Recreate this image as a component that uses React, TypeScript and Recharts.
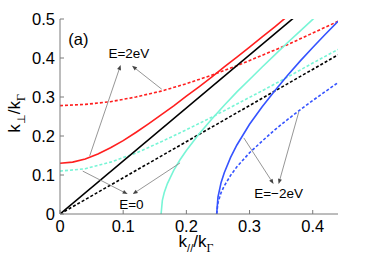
import React from 'react';
import { LineChart, Line, XAxis, YAxis, ReferenceLine, ReferenceDot } from 'recharts';

// k_par / k_Gamma samples and the k_perp / k_Gamma values
const xTicks = [0, 0.1, 0.2, 0.3, 0.4];
const yTicks = [0, 0.1, 0.2, 0.3, 0.4, 0.5];

const kFine = [0, 0.02, 0.04, 0.06, 0.08, 0.1, 0.12, 0.14, 0.16, 0.18, 0.2, 0.22, 0.24, 0.26, 0.28, 0.3, 0.32, 0.34, 0.36];
const redSolid = [0.13, 0.133, 0.141, 0.154, 0.17, 0.188, 0.209, 0.231, 0.254, 0.277, 0.302, 0.326, 0.351, 0.377, 0.402, 0.428, 0.454, 0.48, 0.507];

const kCoarse = [0, 0.04, 0.08, 0.12, 0.16, 0.2, 0.24, 0.28, 0.32, 0.36, 0.4, 0.44];
const redDashed = [0.278, 0.281, 0.288, 0.3, 0.315, 0.334, 0.356, 0.38, 0.407, 0.434, 0.464, 0.494];
const cyanDashed = [0.11, 0.116, 0.133, 0.156, 0.185, 0.216, 0.248, 0.282, 0.316, 0.351, 0.387, 0.422];

const kBlackSolid = [0, 0.37];
const blackSolid = [0, 0.503];
const kBlackDashed = [0, 0.44];
const blackDashed = [0, 0.408];

const kCyan = [0.16, 0.162, 0.165, 0.17, 0.18, 0.19, 0.2, 0.22, 0.24, 0.26, 0.28, 0.3, 0.32, 0.34, 0.36, 0.38, 0.4, 0.41];
const cyanSolid = [0, 0.035, 0.055, 0.078, 0.112, 0.139, 0.163, 0.205, 0.243, 0.279, 0.313, 0.345, 0.377, 0.408, 0.439, 0.469, 0.499, 0.513];

const kBlue = [0.248, 0.25, 0.255, 0.26, 0.27, 0.28, 0.3, 0.32, 0.34, 0.36, 0.38, 0.4, 0.42, 0.44];
const blueSolid = [0, 0.043, 0.081, 0.106, 0.145, 0.177, 0.23, 0.275, 0.316, 0.355, 0.392, 0.427, 0.461, 0.494];
const blueDashed = [0, 0.029, 0.055, 0.072, 0.099, 0.121, 0.157, 0.187, 0.216, 0.242, 0.267, 0.291, 0.314, 0.337];

const pts = (ks: number[], vs: number[]) => ks.map((k, i) => ({ k, v: vs[i] }));

const RED = '#ff1f1f';
const CYAN = '#78f5d6';
const BLUE = '#3553ff';
const FRAME = '#7a7a7a';
const FONT = "'Liberation Sans', Arial, Helvetica, sans-serif";

// annotation arrows: [from, to] in data units
const arrows = [
  [[0.047, 0.149], [0.096, 0.382]],
  [[0.161, 0.32], [0.114, 0.38]],
  [[0.036, 0.11], [0.107, 0.051]],
  [[0.19, 0.131], [0.115, 0.051]],
  [[0.291, 0.195], [0.338, 0.077]],
  [[0.378, 0.262], [0.346, 0.077]],
];

const notes = [
  { x: 0.029, y: 0.449, text: '(a)', size: 16.5 },
  { x: 0.109, y: 0.413, text: 'E=2eV', size: 13.5 },
  { x: 0.113, y: 0.026, text: 'E=0', size: 13.5 },
  { x: 0.346, y: 0.054, text: 'E=\u22122eV', size: 13.5 },
];

const Arrow = (p: any) => {
  const { x1, y1, x2, y2 } = p;
  const dx = x2 - x1;
  const dy = y2 - y1;
  const len = Math.hypot(dx, dy) || 1;
  const ux = dx / len;
  const uy = dy / len;
  const L = 5;
  const W = 2;
  const bx = x2 - ux * L;
  const by = y2 - uy * L;
  return (
    <g>
      <line x1={x1} y1={y1} x2={bx} y2={by} stroke="#8a8a8a" strokeWidth={0.9} />
      <polygon
        points={`${x2},${y2} ${bx - uy * W},${by + ux * W} ${bx + uy * W},${by - ux * W}`}
        fill="#444"
      />
    </g>
  );
};

const XLabel = (props: any) => {
  const vb = props.viewBox;
  const cx = vb.x + vb.width / 2 - 3;
  const by = vb.y + 33;
  return (
    <text x={cx} y={by} textAnchor="middle" fontSize={17} fill="#000" fontFamily={FONT}>
      k
      <tspan fontSize={11} dy={5}>//</tspan>
      <tspan dy={-5}>/k</tspan>
      <tspan fontSize={12} dy={5} fontFamily="'Liberation Serif', serif">Γ</tspan>
    </text>
  );
};

const YLabel = (props: any) => {
  const vb = props.viewBox;
  const bx = vb.x + 20;
  const cy = vb.y + vb.height / 2 - 3;
  return (
    <text
      x={bx}
      y={cy}
      transform={`rotate(-90 ${bx} ${cy})`}
      textAnchor="middle"
      fontSize={17}
      fill="#000"
      fontFamily={FONT}
    >
      k
      <tspan fontSize={11} dy={5}>⊥</tspan>
      <tspan dy={-5}>/k</tspan>
      <tspan fontSize={12} dy={5} fontFamily="'Liberation Serif', serif">Γ</tspan>
    </text>
  );
};

export default function App() {
  const common = { dot: false, isAnimationActive: false, dataKey: 'v', type: 'linear' as const };
  return (
    <div style={{ position: 'absolute', left: 0, top: 0, background: '#fff' }}>
      <LineChart width={374} height={263} margin={{ top: 19, right: 36, left: 0, bottom: 0 }} style={{ fontFamily: FONT }}>
        <XAxis
          type="number"
          dataKey="k"
          domain={[0, 0.44]}
          ticks={xTicks}
          allowDataOverflow
          tickSize={-4}
          tickMargin={10}
          height={49}
          stroke={FRAME}
          tick={{ fill: '#000', fontSize: 16.5 }}
          label={{ content: XLabel }}
        />
        <XAxis
          xAxisId="top"
          orientation="top"
          type="number"
          domain={[0, 0.44]}
          ticks={xTicks}
          allowDataOverflow
          tick={false}
          tickSize={-4}
          height={0}
          stroke={FRAME}
        />
        <YAxis
          type="number"
          domain={[0, 0.5]}
          ticks={yTicks}
          allowDataOverflow
          tickSize={-4}
          tickMargin={9}
          width={60}
          stroke={FRAME}
          tick={{ fill: '#000', fontSize: 16.5 }}
          label={{ content: YLabel }}
        />
        <YAxis
          yAxisId="right"
          orientation="right"
          type="number"
          domain={[0, 0.5]}
          ticks={yTicks}
          allowDataOverflow
          tick={false}
          tickSize={-4}
          width={0}
          stroke={FRAME}
        />

        <Line {...common} data={pts(kCoarse, redDashed)} stroke={RED} strokeWidth={1.6} strokeDasharray="3 2" />
        <Line {...common} data={pts(kCoarse, cyanDashed)} stroke={CYAN} strokeWidth={1.6} strokeDasharray="3 2" />
        <Line {...common} data={pts(kBlackDashed, blackDashed)} stroke="#000" strokeWidth={1.6} strokeDasharray="3 2" />
        <Line {...common} data={pts(kBlue, blueDashed)} stroke={BLUE} strokeWidth={1.6} strokeDasharray="3 2" />
        <Line {...common} data={pts(kFine, redSolid)} stroke={RED} strokeWidth={1.6} />
        <Line {...common} data={pts(kBlackSolid, blackSolid)} stroke="#000" strokeWidth={1.6} />
        <Line {...common} data={pts(kCyan, cyanSolid)} stroke={CYAN} strokeWidth={1.6} />
        <Line {...common} data={pts(kBlue, blueSolid)} stroke={BLUE} strokeWidth={1.6} />

        {arrows.map((a, i) => (
          <ReferenceLine
            key={`ar${i}`}
            segment={[{ x: a[0][0], y: a[0][1] }, { x: a[1][0], y: a[1][1] }]}
            shape={Arrow}
            ifOverflow="visible"
          />
        ))}
        {notes.map((n, i) => (
          <ReferenceDot
            key={`nt${i}`}
            x={n.x}
            y={n.y}
            r={0}
            fill="none"
            stroke="none"
            label={{ value: n.text, position: 'center', fontSize: n.size, fill: '#000' }}
          />
        ))}
      </LineChart>
    </div>
  );
}
